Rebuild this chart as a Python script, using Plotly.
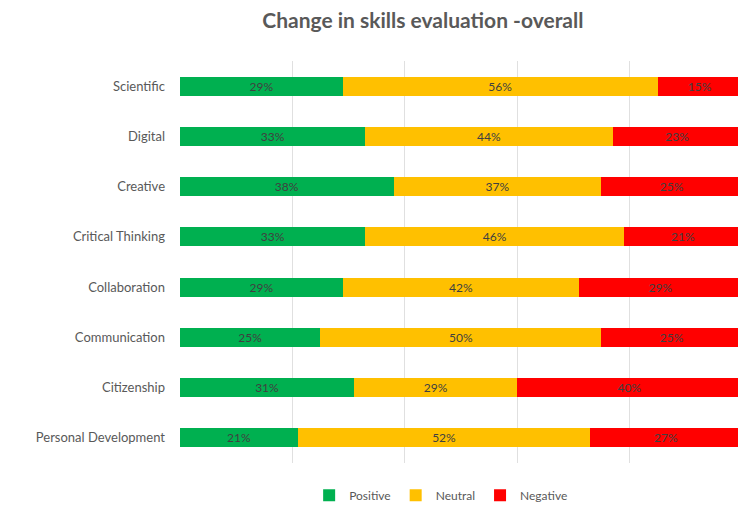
import plotly.graph_objects as go

categories = ["Scientific", "Digital", "Creative", "Critical Thinking", "Collaboration",
              "Communication", "Citizenship", "Personal Development"]
positive = [29, 33, 38, 33, 29, 25, 31, 21]
neutral = [56, 44, 37, 46, 42, 50, 29, 52]
negative = [15, 23, 25, 21, 29, 25, 40, 27]

series = [("Positive", positive, "#00B050"),
          ("Neutral", neutral, "#FFC000"),
          ("Negative", negative, "#FF0000")]

fig = go.Figure()
for name, vals, color in series:
    fig.add_trace(go.Bar(
        y=categories, x=[v / 100 for v in vals], name=name, orientation="h",
        marker=dict(color=color, line=dict(width=0)),
        text=[f"{v}%" for v in vals], textposition="inside", insidetextanchor="middle",
        textfont=dict(color="#404040", size=12, family="Lato"),
        constraintext="none",
    ))

fig.update_layout(
    barmode="stack", bargap=0.62,
    width=738, height=512,
    margin=dict(l=180, r=0, t=61, b=49),
    paper_bgcolor="white", plot_bgcolor="white",
    font=dict(family="Lato", color="#595959"),
    title=dict(text="<b>Change in skills evaluation -overall</b>", x=0.573, xanchor="center",
               y=0.96, yanchor="middle", font=dict(size=21, color="#595959", family="Lato")),
    xaxis=dict(range=[0, 0.993], tickvals=[0, 0.2, 0.4, 0.6, 0.8], showticklabels=False,
               showgrid=True, gridcolor="#E0E0E0", gridwidth=1, zeroline=False, fixedrange=True),
    yaxis=dict(autorange="reversed", tickfont=dict(size=13, color="#595959"),
               ticklabelstandoff=14, showgrid=False, zeroline=False),
    legend=dict(orientation="h", x=0.468, xanchor="center", y=-0.08, yanchor="middle",
                font=dict(size=12, color="#595959"), itemwidth=30, traceorder="normal"),
    showlegend=True,
)

fig.write_html("out.html")
